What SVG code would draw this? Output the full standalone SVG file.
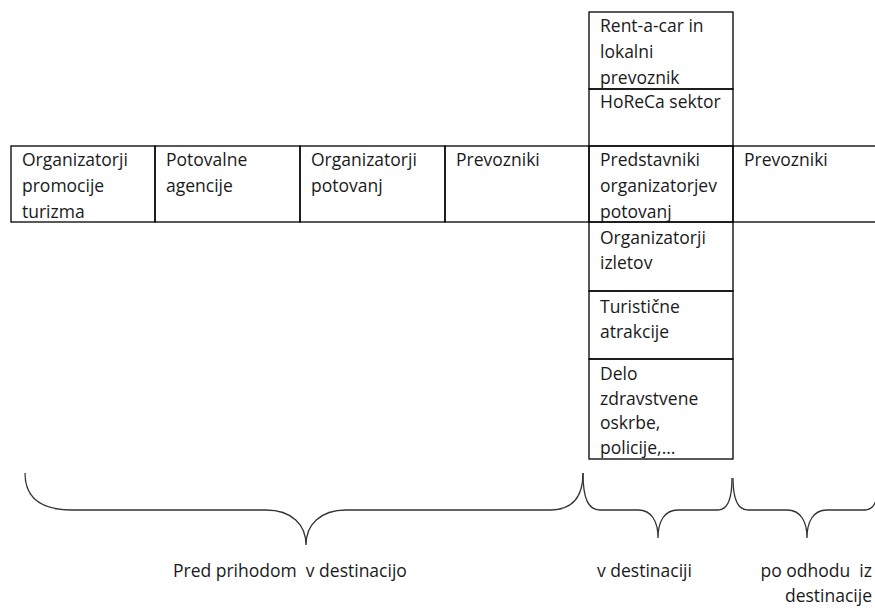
<svg xmlns="http://www.w3.org/2000/svg" width="875" height="608" viewBox="0 0 875 608">
<style>
.cell{fill:none;stroke:#000;stroke-width:1.3}
.t{font-family:"Open Sans","DejaVu Sans",sans-serif;font-size:17.5px;fill:#1a1a1a}
.brace{fill:none;stroke:#333;stroke-width:1.3}
</style>
<rect width="875" height="608" fill="#fff"/>
<g id="n1"><rect class="cell" x="11" y="146" width="144" height="76"/><text class="t" x="22" y="166">Organizatorji</text><text class="t" x="22" y="192">promocije</text><text class="t" x="22" y="218">turizma</text></g>
<g id="n2"><rect class="cell" x="155" y="146" width="145" height="76"/><text class="t" x="166" y="166">Potovalne</text><text class="t" x="166" y="192">agencije</text></g>
<g id="n3"><rect class="cell" x="300" y="146" width="145" height="76"/><text class="t" x="311" y="166">Organizatorji</text><text class="t" x="311" y="192">potovanj</text></g>
<g id="n4"><rect class="cell" x="445" y="146" width="144" height="76"/><text class="t" x="456" y="166">Prevozniki</text></g>
<g id="n5"><rect class="cell" x="589" y="12" width="144" height="77"/><text class="t" x="600" y="32">Rent-a-car in</text><text class="t" x="600" y="58">lokalni</text><text class="t" x="600" y="84">prevoznik</text></g>
<g id="n6"><rect class="cell" x="589" y="89" width="144" height="57"/><text class="t" x="600" y="108">HoReCa sektor</text></g>
<g id="n7"><rect class="cell" x="589" y="146" width="144" height="76"/><text class="t" x="600" y="166">Predstavniki</text><text class="t" x="600" y="192">organizatorjev</text><text class="t" x="600" y="218">potovanj</text></g>
<g id="n8"><rect class="cell" x="733" y="146" width="150" height="76"/><text class="t" x="744" y="166">Prevozniki</text></g>
<g id="n9"><rect class="cell" x="589" y="222" width="144" height="69"/><text class="t" x="600" y="244">Organizatorji</text><text class="t" x="600" y="269">izletov</text></g>
<g id="n10"><rect class="cell" x="589" y="291" width="144" height="68"/><text class="t" x="600" y="313">Turistične</text><text class="t" x="600" y="338">atrakcije</text></g>
<g id="n11"><rect class="cell" x="589" y="359" width="144" height="100"/><text class="t" x="600" y="380">Delo</text><text class="t" x="600" y="405">zdravstvene</text><text class="t" x="600" y="429">oskrbe,</text><text class="t" x="600" y="454">policije,...</text></g>
<g id="connectors">
<path class="brace" d="M25,473 C25,498 42,510 72,510 L266,510 C292,510 306,525 306,545 C306,525 320,510 346,510 L550,510 C572,510 583,498 583,473"/>
<path class="brace" d="M583,473 C583,498 588,510 600,510 L638,510 C652,510 658,522 658,538 C658,522 664,510 678,510 L718,510 C728,510 732,498 732,478"/>
<path class="brace" d="M733,478 C733,498 737,510 748,510 L787,510 C801,510 807,522 807,538 C807,522 813,510 827,510 L865,510 C875,510 879,498 879,478"/>
</g>
<g id="labels">
<text class="t" x="173" y="577" xml:space="preserve">Pred prihodom  v destinacijo</text>
<text class="t" x="597" y="577">v destinaciji</text>
<text class="t" x="872" y="577" text-anchor="end" xml:space="preserve">po odhodu  iz</text>
<text class="t" x="872" y="602" text-anchor="end">destinacije</text>
</g>
</svg>
